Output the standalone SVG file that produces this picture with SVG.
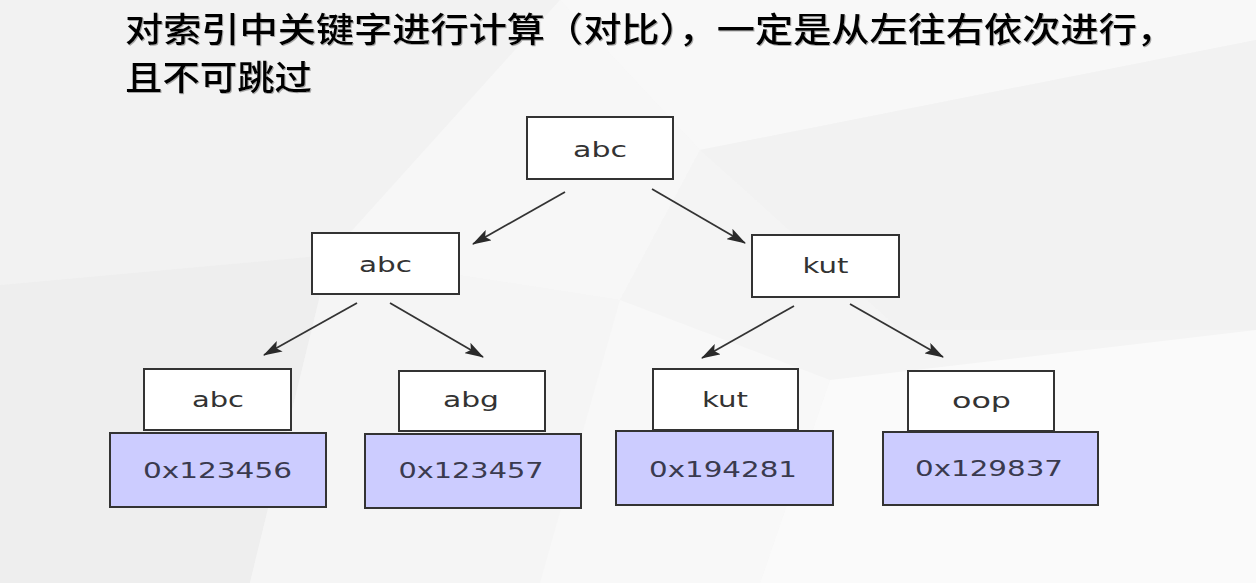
<svg xmlns="http://www.w3.org/2000/svg" width="1256" height="583" viewBox="0 0 1256 583">
  <defs>
    <style>
      .title { font-family: "Noto Sans CJK SC", "Noto Sans", sans-serif; font-size: 34px; fill: #000; font-weight: 500; }
      .box { fill: #ffffff; stroke: #333333; stroke-width: 2; }
      .val { fill: #ccccff; stroke: #333333; stroke-width: 2; }
      .lbl { font-family: "DejaVu Sans", "Liberation Sans", sans-serif; font-size: 21px; fill: #333333; text-anchor: middle; }
      .vlbl { font-family: "DejaVu Sans", "Liberation Sans", sans-serif; font-size: 21px; fill: #3a3a4e; text-anchor: middle; }
      .edge { stroke: #333333; stroke-width: 1.8; fill: none; marker-end: url(#arrow); }
    </style>
    <marker id="arrow" markerWidth="19" markerHeight="12" refX="18" refY="6" orient="auto" markerUnits="userSpaceOnUse">
      <path d="M0,0 L19,6 L0,12 L4,6 Z" fill="#2a2a2a"/>
    </marker>
    <filter id="shadow" x="-5%" y="-20%" width="110%" height="140%">
      <feDropShadow dx="1" dy="1" stdDeviation="0.6" flood-color="#777777" flood-opacity="0.6"/>
    </filter>
  </defs>

  <!-- background facets -->
  <g id="background">
    <rect x="0" y="0" width="1256" height="583" fill="#f4f4f4"/>
    <polygon points="0,0 560,0 330,255 0,285" fill="#f2f2f2"/>
    <polygon points="0,285 330,255 250,583 0,583" fill="#eeeeee"/>
    <polygon points="560,0 1256,0 1256,40 700,150" fill="#f8f8f8"/>
    <polygon points="700,150 1256,40 1256,330 900,330" fill="#f2f2f2"/>
    <polygon points="330,255 560,0 700,150 620,300" fill="#f7f7f7"/>
    <polygon points="620,300 700,150 900,330 830,380" fill="#f4f4f4"/>
    <polygon points="250,583 330,255 620,300 540,583" fill="#f5f5f5"/>
    <polygon points="540,583 620,300 830,380 760,583" fill="#f8f8f8"/>
    <polygon points="760,583 830,380 1256,330 1256,583" fill="#fafafa"/>
  </g>

  <g id="title" filter="url(#shadow)">
    <text class="title" x="125" y="42" textLength="1050" lengthAdjust="spacingAndGlyphs">对索引中关键字进行计算（对比），一定是从左往右依次进行，</text>
    <text class="title" x="125" y="90" textLength="187" lengthAdjust="spacingAndGlyphs">且不可跳过</text>
  </g>

  <g id="connectors">
    <line class="edge" x1="565" y1="192" x2="473" y2="244"/>
    <line class="edge" x1="652" y1="189" x2="745" y2="243"/>
    <line class="edge" x1="357" y1="303" x2="264" y2="355"/>
    <line class="edge" x1="390" y1="303" x2="483" y2="357"/>
    <line class="edge" x1="794" y1="306" x2="702" y2="358"/>
    <line class="edge" x1="850" y1="304" x2="943" y2="357"/>
  </g>

  <g id="node-root">
    <rect class="box" x="527" y="117" width="146" height="62"/>
    <text class="lbl" x="600" y="157" textLength="54" lengthAdjust="spacingAndGlyphs">abc</text>
  </g>
  <g id="node-l">
    <rect class="box" x="312" y="233" width="147" height="61"/>
    <text class="lbl" x="385.5" y="272" textLength="53" lengthAdjust="spacingAndGlyphs">abc</text>
  </g>
  <g id="node-r">
    <rect class="box" x="752" y="235" width="147" height="62"/>
    <text class="lbl" x="825.5" y="273" textLength="46" lengthAdjust="spacingAndGlyphs">kut</text>
  </g>

  <g id="leaf-1">
    <rect class="box" x="144" y="369" width="147" height="61"/>
    <text class="lbl" x="218" y="407" textLength="52" lengthAdjust="spacingAndGlyphs">abc</text>
    <rect class="val" x="110" y="433" width="216" height="74"/>
    <text class="vlbl" x="217.5" y="478" textLength="149" lengthAdjust="spacingAndGlyphs">0x123456</text>
  </g>
  <g id="leaf-2">
    <rect class="box" x="399" y="371" width="146" height="60"/>
    <text class="lbl" x="471" y="407" textLength="56" lengthAdjust="spacingAndGlyphs">abg</text>
    <rect class="val" x="365" y="434" width="216" height="74"/>
    <text class="vlbl" x="471" y="478" textLength="145" lengthAdjust="spacingAndGlyphs">0x123457</text>
  </g>
  <g id="leaf-3">
    <rect class="box" x="653" y="369" width="145" height="61"/>
    <text class="lbl" x="725" y="407" textLength="46" lengthAdjust="spacingAndGlyphs">kut</text>
    <rect class="val" x="616" y="431" width="217" height="74"/>
    <text class="vlbl" x="723" y="477" textLength="148" lengthAdjust="spacingAndGlyphs">0x194281</text>
  </g>
  <g id="leaf-4">
    <rect class="box" x="908" y="371" width="146" height="60"/>
    <text class="lbl" x="981.5" y="408" textLength="59" lengthAdjust="spacingAndGlyphs">oop</text>
    <rect class="val" x="883" y="432" width="215" height="73"/>
    <text class="vlbl" x="989" y="476" textLength="148" lengthAdjust="spacingAndGlyphs">0x129837</text>
  </g>
</svg>
